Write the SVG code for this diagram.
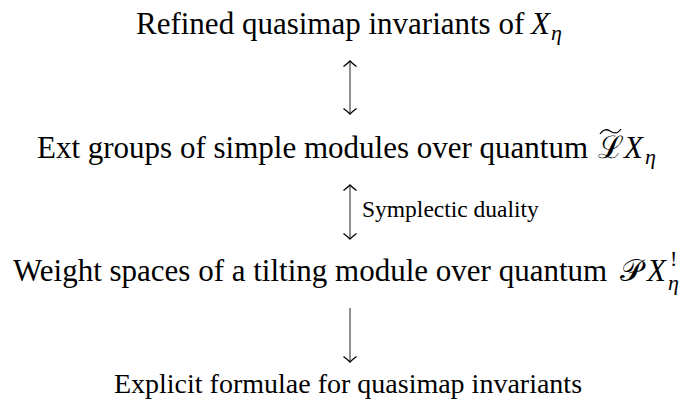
<svg xmlns="http://www.w3.org/2000/svg" width="696" height="403" viewBox="0 0 696 403">
<style>
.t{font-family:"Liberation Serif","Times New Roman",serif;font-size:31px;fill:#000}
.b{font-size:28px}
.m{font-style:italic}
.sub{font-size:22px}
.s{font-family:"Liberation Serif","Times New Roman",serif;font-size:23.5px;fill:#000}
.c{stroke:#555;stroke-width:1.3;fill:none}
.h{stroke:#000;stroke-width:1.3;fill:none}
</style>
<defs>
<marker id="ah" viewBox="-7 -7 8 14" refX="0" refY="0" markerWidth="8" markerHeight="14" markerUnits="userSpaceOnUse" orient="auto-start-reverse">
<path d="M-5.5,-6.5 Q-2,-1.8 0,0 Q-2,1.8 -5.5,6.5" stroke="#000" stroke-width="1.3" fill="none"/>
</marker>
</defs>
<rect width="696" height="403" fill="#fff"/>
<g id="n1"><text class="t" x="136" y="34">Refined quasimap invariants of <tspan class="m" x="531">X</tspan><tspan class="m sub" x="551" y="40">η</tspan></text></g>
<g id="n2"><text class="t" x="37" y="158">Ext groups of simple modules over quantum <tspan x="598">ℒ</tspan><tspan class="m" x="624">X</tspan><tspan class="m sub" x="645" y="164">η</tspan></text>
<path class="h" d="M600,134 C603,129 607,129 610,131 C613,133 617,135 621,129"/></g>
<g id="n3"><text class="t" x="13" y="281">Weight spaces of a tilting module over quantum <tspan x="620">𝒫</tspan><tspan class="m" x="647">X</tspan><tspan class="sub" x="670" y="266">!</tspan></text>
<text class="t m sub" x="668" y="290">η</text></g>
<g id="n4"><text class="t b" x="348" y="393" text-anchor="middle">Explicit formulae for quasimap invariants</text></g>
<g id="edges">
<line class="c" x1="350" y1="61" x2="350" y2="114" marker-start="url(#ah)" marker-end="url(#ah)"/>
<line class="c" x1="350" y1="185" x2="350" y2="239" marker-start="url(#ah)" marker-end="url(#ah)"/>
<line class="c" x1="350" y1="308" x2="350" y2="362" marker-end="url(#ah)"/>
<text class="s" x="362" y="217">Symplectic duality</text>
</g>
</svg>
